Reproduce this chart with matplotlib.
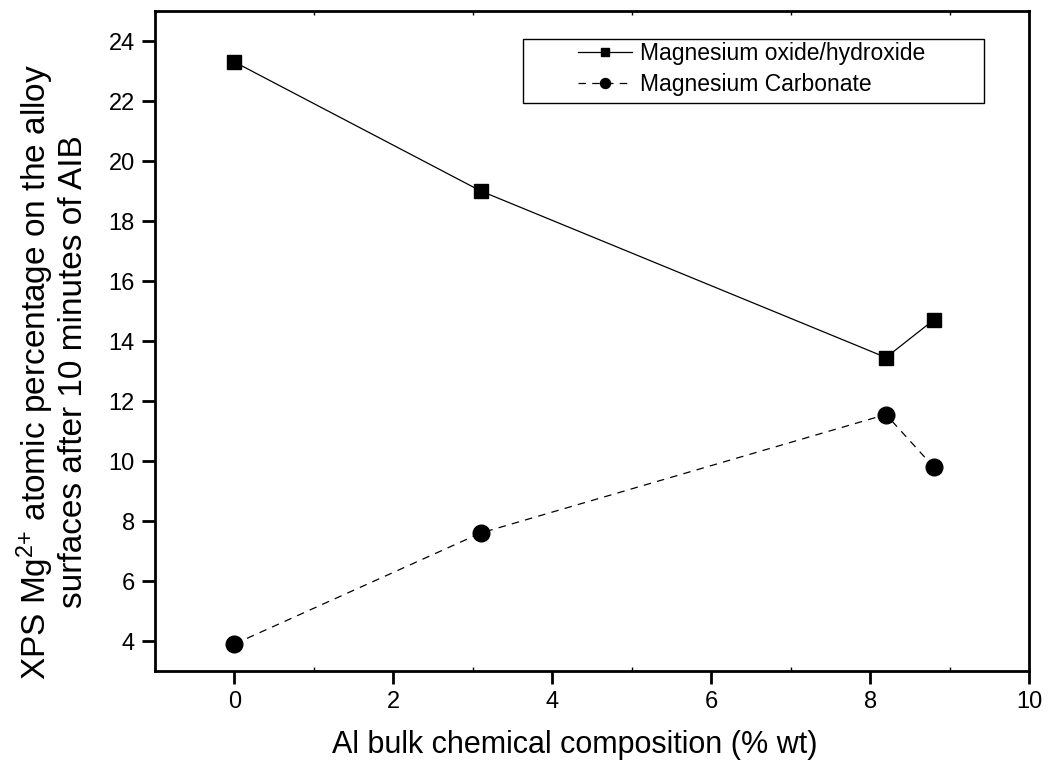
import matplotlib
matplotlib.use("Agg")
import matplotlib.pyplot as plt
from matplotlib.ticker import MultipleLocator
from matplotlib.patches import Rectangle

plt.rcParams['font.family'] = ['Liberation Sans', 'DejaVu Sans']
plt.rcParams['mathtext.fontset'] = 'custom'
plt.rcParams['mathtext.rm'] = 'Liberation Sans'
plt.rcParams['mathtext.it'] = 'Liberation Sans'

# Al content (% wt) of the alloys
al_content = [0.0, 3.1, 8.2, 8.8]
# Mg2+ atomic percentage by chemical state
mg_oxide_hydroxide = [23.3, 19.0, 13.45, 14.7]
mg_carbonate = [3.9, 7.6, 11.55, 9.8]

series_labels = ["Magnesium oxide/hydroxide", "Magnesium Carbonate"]
x_label = "Al bulk chemical composition (% wt)"
y_label = "XPS Mg$^{2{+}}$ atomic percentage on the alloy\nsurfaces after 10 minutes of AIB"

W, H = 1050, 776
fig = plt.figure(figsize=(W / 100, H / 100), dpi=100)
ax = fig.add_axes([155 / W, 1 - 671 / H, (1029 - 155) / W, (671 - 11) / H])

ax.plot(al_content, mg_oxide_hydroxide, color='black', linestyle='-', linewidth=0.9,
        marker='s', markersize=10.5, label=series_labels[0])
ax.plot(al_content, mg_carbonate, color='black', linestyle=(0, (6, 5)), linewidth=0.9,
        marker='o', markersize=12, label=series_labels[1])

ax.set_xlim(-1, 10)
ax.set_ylim(3, 25)
ax.xaxis.set_major_locator(MultipleLocator(2))
ax.xaxis.set_minor_locator(MultipleLocator(1))
ax.yaxis.set_major_locator(MultipleLocator(2))
ax.yaxis.set_minor_locator(MultipleLocator(1))

for s in ax.spines.values():
    s.set_linewidth(2.0)

ax.tick_params(axis='both', which='major', direction='out', length=9.5, width=2.0,
               labelsize=17, pad=5)
ax.tick_params(axis='x', which='minor', direction='in', length=3, width=1.0, top=True)
ax.tick_params(axis='y', which='minor', length=0)

# axis titles
fig.text(575 / W, 1 - 745 / H, x_label, fontsize=22, ha='center', va='center')
fig.text(52 / W, 1 - 372 / H, y_label, fontsize=24, ha='center', va='center',
         rotation=90, multialignment='center', linespacing=1.1)

# legend with its own outlined box
frame = Rectangle(((523 - 155) / 874, 1 - (103 - 11) / 660), (984 - 523) / 874, (103 - 39) / 660,
                  transform=ax.transAxes, fill=False, edgecolor='black', linewidth=1.0, zorder=5)
ax.add_patch(frame)
leg = ax.legend(loc='upper left', bbox_to_anchor=((578 - 155) / 874, 1 - (42 - 11) / 660),
                fontsize=16.5, frameon=False, handlelength=2.36,
                handletextpad=0.35, borderpad=0, labelspacing=0.35,
                markerscale=0.6, borderaxespad=0)

fig.savefig("out.png", dpi=100, facecolor='white')
